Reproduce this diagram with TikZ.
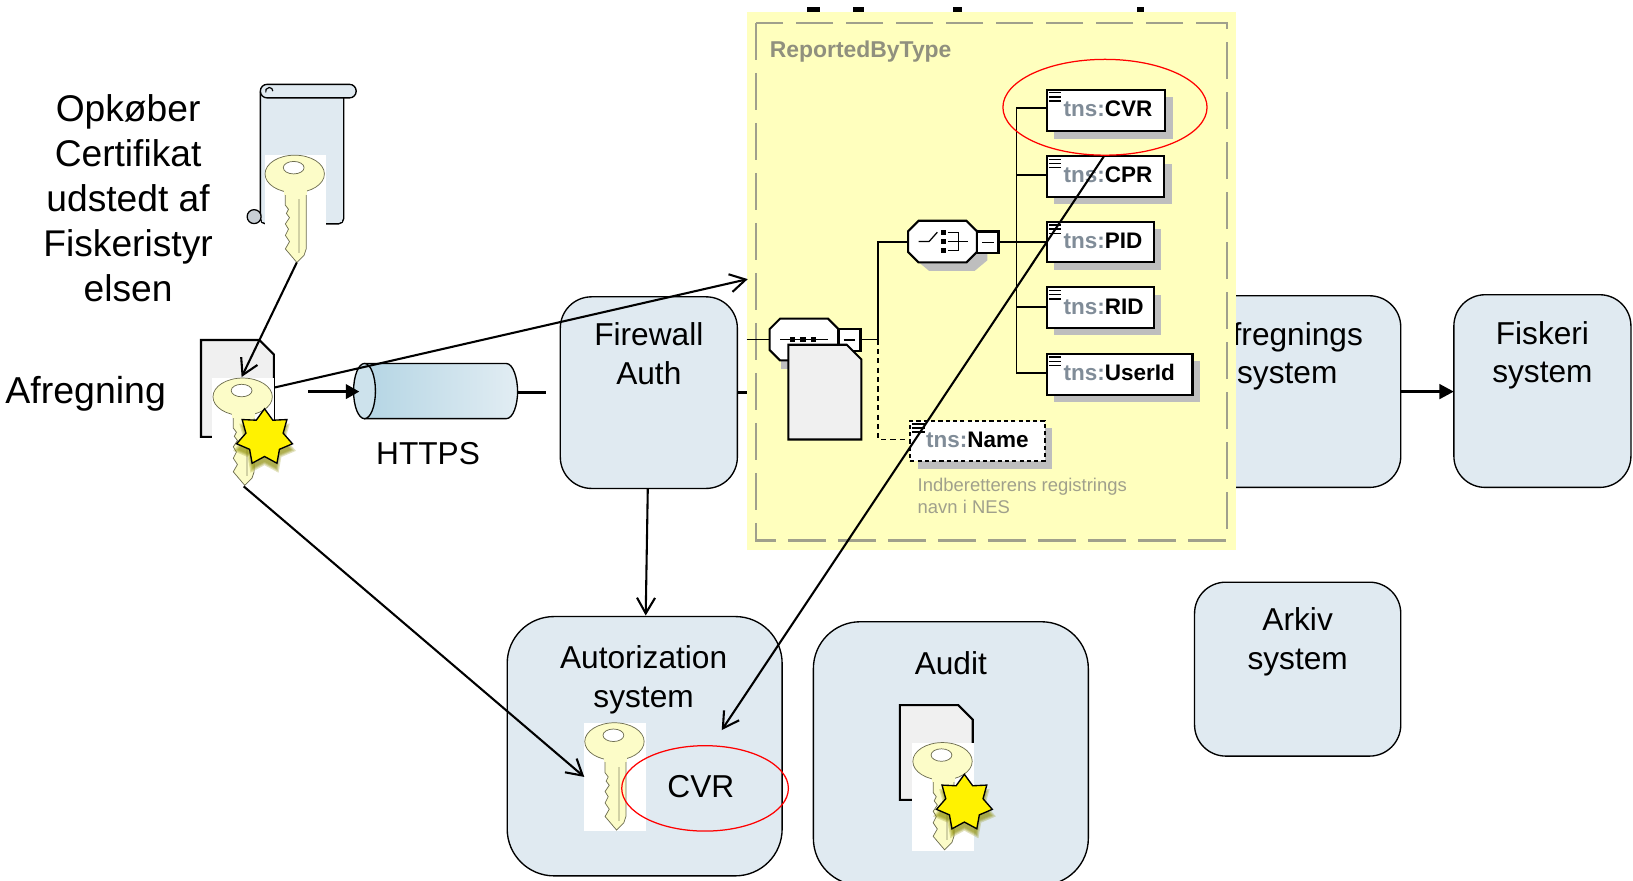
\documentclass[tikz,border=0pt]{standalone}
\usepackage{fontspec}
\setmainfont{Liberation Sans}
\usetikzlibrary{shapes.geometric,arrows.meta}
\definecolor{boxfill}{HTML}{E0EAF1}
\definecolor{docfill}{HTML}{F0F0F0}
\definecolor{keyfill}{HTML}{FCFCC8}
\definecolor{keyedge}{HTML}{6E6E50}
\definecolor{yellowbg}{HTML}{FFFFBE}
\definecolor{dashgray}{HTML}{A0A08C}
\definecolor{shadowgray}{HTML}{BEBEBE}
\definecolor{tnsgray}{HTML}{808C98}
\definecolor{cylleft}{HTML}{B4D5E4}
\definecolor{cylright}{HTML}{E2EDF3}
\definecolor{cylcap}{HTML}{CDE2EC}
\definecolor{glow}{HTML}{8C8C00}
\newcommand{\bigfont}{\fontsize{30.4}{37}\selectfont}
\newcommand{\hugefont}{\fontsize{35.7}{43.2}\selectfont}
\newcommand{\schemafont}{\fontsize{21.6}{25}\selectfont}
\newcommand{\KeyAt}[2]{%
\begin{scope}[shift={(#1,#2)}]
\fill[white] (0,0) rectangle (59,104);
\draw[keyedge,fill=keyfill,line width=0.7pt] (20,32) -- (20,48) -- (23,52) -- (21,56) -- (24,60) -- (20,66) -- (23,71) -- (20,77) -- (24,83) -- (20,90) -- (31,103) -- (38,96) -- (40,90) -- (40,32) -- cycle;
\fill[keyfill!70!keyedge] (32,42) rectangle (34,94);
\draw[keyedge,fill=keyfill,line width=0.7pt] (29,18) ellipse [x radius=28.5, y radius=18];
\fill[keyfill] (19,30) rectangle (41,38);
\draw[keyedge,fill=white,line width=0.7pt] (28,12) ellipse [x radius=10, y radius=6];
\end{scope}}
\newcommand{\StarAt}[3]{%
\foreach \s in {31,29,27.5,26}{\node[star,star points=7,star point ratio=1.5,minimum size=\s*2pt,inner sep=0pt,fill=glow,opacity=0.25] at (#1,#2+6) {};}
\node[star,star points=7,star point ratio=1.5,minimum size=55pt,inner sep=0pt,fill=yellow,draw=black,line width=1.3pt] (#3) at (#1,#2) {};}
\newcommand{\DocAt}[3]{%
\begin{scope}[shift={(#1,#2)}]
\draw[docdraw] (0,0) -- (56,0) -- (70,14) -- (70,#3) -- (0,#3) -- cycle;
\end{scope}}
\tikzset{
 x=1pt,y=-1pt,
 sysbox/.style={draw=black,fill=boxfill,line width=1.3pt},
 docdraw/.style={draw=black,fill=docfill,line width=2pt,line join=miter},
 conn/.style={draw=black,line width=2pt,-{Straight Barb[length=15pt,width=20pt,line width=2pt,angle'=60]}},
 sysarrow/.style={draw=black,line width=3pt,-{Triangle[length=14pt,width=14pt]}},
 label/.style={inner sep=0pt,align=center,font=\bigfont},
 biglabel/.style={inner sep=0pt,align=center,font=\hugefont},
 redring/.style={draw=red,line width=1.2pt},
 elem/.style={draw=black,fill=white,line width=2pt},
 schemaline/.style={draw=black,line width=1.8pt},
 tnstext/.style={inner sep=0pt,anchor=west,font=\schemafont\bfseries},
}
\newcommand{\Elem}[6]{% name x1 y1 x2 y2 label
\fill[shadowgray] (#2+8,#3+8) rectangle (#4+8,#5+8);
\node[elem,#6,minimum width=#4pt-#2pt,minimum height=#5pt-#3pt,inner sep=0pt,anchor=north west] (#1) at (#2,#3) {};
\foreach \yy in {4,8,12}{\draw[black,line width=1.4pt] (#2+3,#3+\yy) -- (#2+15,#3+\yy);}
}
\begin{document}
\begin{tikzpicture}
\clip (0,0) rectangle (1568,845);
\fill[white] (0,0) rectangle (1568,845);

% left labels
\node[biglabel] at (123,190.5) {Opkøber\\Certifikat\\udstedt af\\Fiskeristyr\\elsen};
\node[biglabel,anchor=west,font=\fontsize{36}{43}\selectfont] at (5,378) {Afregning};

% scroll
\draw[fill=boxfill,line width=1.3pt,rounded corners=5pt] (250,88) -- (250,215) -- (330,215) -- (330,90);
\fill[boxfill] (252,90) rectangle (328,213);
\draw[fill=boxfill,line width=1.3pt,rounded corners=6.4pt] (250,81) rectangle (342,94);
\draw[line width=1.1pt] (262,87.5) arc[start angle=0,end angle=-200,radius=3.5];
\draw[fill=boxfill!75!gray,line width=1.2pt] (244,208) circle[radius=6.7];
\KeyAt{254}{149}
\coordinate (keytop) at (285,252);

% afregning document + key + star
\DocAt{193}{326.5}{93}
\KeyAt{204}{363}
\StarAt{254}{420}{sealA}
\coordinate (keymidR) at (264,372);
\coordinate (keymidT) at (232,362);
\coordinate (keymidB) at (234,467);

% cylinder
\coordinate (cylIn) at (296,376);
\coordinate (cylOut) at (497,377);
\coordinate (cylStub) at (524,377);
\draw[line width=1.3pt,left color=cylleft,right color=cylright]
  (350,349) -- (486,349) .. controls (493,349) and (497,364) .. (497,376) .. controls (497,388) and (493,402) .. (486,402) -- (350,402) -- cycle;
\draw[fill=cylcap,line width=1.3pt] (350,375.5) ellipse[x radius=10.5,y radius=26.5];
\draw[line width=2.4pt,-{Triangle[length=13pt,width=14pt]}] (cylIn) -- (345,376);
\draw[line width=2.4pt] (cylOut) -- (cylStub);
\node[label] (https) at (411,436) {HTTPS};

% system boxes under the yellow panel
\draw[sysbox,rounded corners=30pt] (538,285) rectangle (708,469);
\node[label] (fw) at (623,339.5) {Firewall\\Auth};
\coordinate (fwB) at (622,469);
\draw[sysbox,rounded corners=30pt] (1147,284) rectangle (1345,468);
\node[label] (afr) at (1236,342) {Afregnings\\system};
\draw[line width=3pt] (708,377) -- (760,377);
\draw[sysbox,rounded corners=30pt] (1396,283) rectangle (1566,468);
\node[label] (fisk) at (1481,341) {Fiskeri\\system};
\coordinate (afrR) at (1345,376);
\coordinate (fiskL) at (1396,376);
\draw[sysarrow] (afrR) -- (fiskL);
\draw[sysbox,rounded corners=30pt] (1147,559) rectangle (1345,726);
\node[label] (ark) at (1246,616.5) {Arkiv\\system};

\foreach \xa/\xb in {775/787,819/830,915/924,1092/1098}{\fill[black] (\xa,7) rectangle (\xb,13);}

% yellow panel
\fill[yellowbg] (717,12) rectangle (1187,528);
\draw[dashgray,line width=2pt,dash pattern=on 36pt off 12pt] (726,22) rectangle (1178,519);
\node[inner sep=0pt,anchor=west,text=dashgray!90!black,font=\fontsize{22}{26}\selectfont\bfseries] (rbt) at (739,50) {ReportedByType};

% schema lines
\draw[schemaline] (717,326) -- (739,326);
\draw[schemaline] (826,326) -- (843,326);
\draw[schemaline] (843,326) -- (843,232) -- (872,232);
\draw[schemaline,dash pattern=on 5pt off 4pt] (843,326) -- (843,422) -- (873,422);
\draw[schemaline] (959,232) -- (1004,232);
\draw[schemaline] (976,104) -- (976,358);
\foreach \yy in {104,168,295,358}{\draw[schemaline] (976,\yy) -- (1004,\yy);}

% schema elements
\Elem{cvr}{1004}{85}{1118}{125}{}
\Elem{cpr}{1004}{149}{1117}{188}{}
\Elem{pid}{1004}{212}{1107}{251}{}
\Elem{rid}{1004}{275}{1107}{314}{}
\Elem{uid}{1004}{339}{1144}{378}{}
\Elem{nam}{873}{403}{1002}{442}{dash pattern=on 4pt off 3pt}
\node[tnstext] at (1021,104) {\textcolor{tnsgray}{tns:}CVR};
\node[tnstext] at (1021,168) {\textcolor{tnsgray}{tns:}CPR};
\node[tnstext] at (1021,231.5) {\textcolor{tnsgray}{tns:}PID};
\node[tnstext] at (1021,295) {\textcolor{tnsgray}{tns:}RID};
\node[tnstext] at (1021,358) {\textcolor{tnsgray}{tns:}UserId};
\node[tnstext] at (889,422) {\textcolor{tnsgray}{tns:}Name};
\node[inner sep=0pt,anchor=north west,align=left,text=dashgray,font=\fontsize{17.7}{21}\selectfont] (note) at (881,459) {Indberetterens registrings\\navn i NES};

% choice compositor
\fill[shadowgray] (884,220) -- (938,220) -- (948,230) -- (948,250) -- (936,260) -- (892,260) -- (880,250) -- cycle;
\draw[elem] (882,212) -- (928,212) -- (938,222) -- (938,242) -- (928,252) -- (882,252) -- (872,242) -- (872,222) -- cycle;
\draw[black,line width=1.2pt] (882,232) -- (892,232) -- (900,223);
\foreach \yy in {223.5,232,240.5}{\fill[black] (903.5,\yy-2.5) rectangle (908.5,\yy+2.5);}
\draw[black,line width=1.2pt] (910,223.5) -- (920,223.5) -- (920,240.5) -- (910,240.5) (910,232) -- (929,232);
\draw[elem,line width=2.6pt] (938,222) rectangle (959,243);
\draw[black,line width=1.2pt] (943,232.5) -- (954,232.5);

% sequence compositor (partly under the document icon)
\fill[shadowgray] (750,340) rectangle (800,354);
\draw[elem] (749,306) -- (795,306) -- (805,316) -- (805,336) -- (795,346) -- (749,346) -- (739,336) -- (739,316) -- cycle;
\draw[black,line width=1.2pt] (749,326) -- (795,326);
\foreach \xx in {761,771,781}{\fill[black] (\xx-2.5,323.5) rectangle (\xx+2.5,328.5);}
\draw[elem,line width=2.6pt] (805,316) rectangle (826,337);
\draw[black,line width=1.2pt] (810,326.5) -- (821,326.5);
\DocAt{757}{331}{91}

% lower boxes
\draw[sysbox,rounded corners=45pt] (487,592) rectangle (751,841);
\node[label] (aut) at (618,653) {Autorization\\system};
\coordinate (autT) at (620,591);
\draw[sysbox,rounded corners=45pt] (781,597) rectangle (1045,850);
\node[label] (aud) at (913,637) {Audit};
\KeyAt{561}{694}
\coordinate (autKey) at (561,746);
\coordinate (autMark) at (693,701);
\node[label] (cvrl) at (673,755) {CVR};
\draw[redring] (677,757) ellipse[x radius=80,y radius=41];
\DocAt{864}{677}{91}
\KeyAt{876}{713}
\StarAt{926}{771}{sealB}

% rings and arrows
\draw[redring] (1061,103) ellipse[x radius=98,y radius=46];
\coordinate (ringB) at (1060,150);
\coordinate (panelL) at (718,268);
\draw[conn] (keytop) -- (keymidT);
\draw[conn] (keymidR) -- (panelL);
\draw[conn] (keymidB) -- (autKey);
\draw[conn] (ringB) -- (autMark);
\draw[conn] (fwB) -- (autT);
\end{tikzpicture}
\end{document}
